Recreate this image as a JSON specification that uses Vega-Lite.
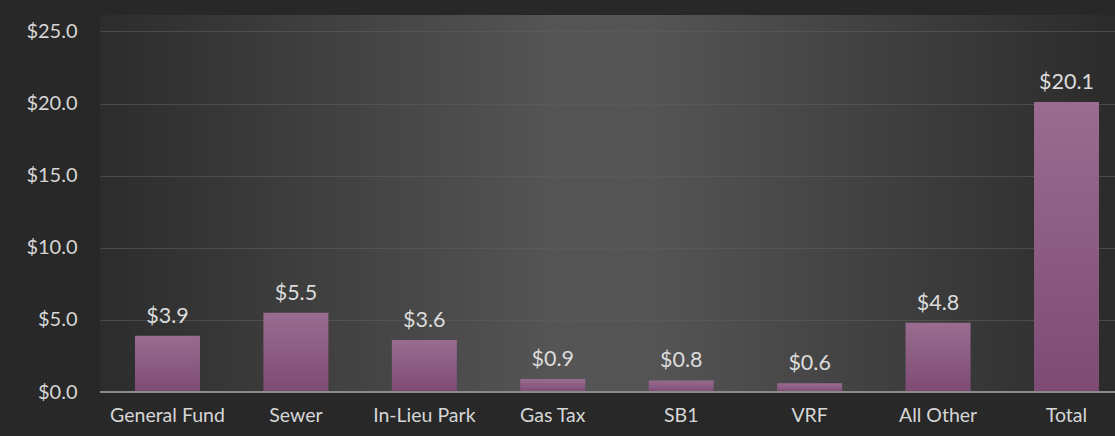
{
  "$schema": "https://vega.github.io/schema/vega-lite/v6.json",
  "autosize": {"type": "none"},
  "width": 1015,
  "height": 377,
  "padding": {"left": 100, "top": 15, "right": 0, "bottom": 44},
  "background": "#282828",
  "config": {
    "view": {
      "stroke": null,
      "fill": {
        "gradient": "linear",
        "x1": 0, "y1": 0, "x2": 1, "y2": 0,
        "stops": [
          {"offset": 0, "color": "#2c2c2c"},
          {"offset": 0.45, "color": "#555555"},
          {"offset": 0.55, "color": "#545454"},
          {"offset": 1, "color": "#2b2b2b"}
        ]
      }
    },
    "font": "Lato"
  },
  "data": {
    "values": [
      {"fund": "General Fund", "amount": 3.9},
      {"fund": "Sewer", "amount": 5.5},
      {"fund": "In-Lieu Park", "amount": 3.6},
      {"fund": "Gas Tax", "amount": 0.9},
      {"fund": "SB1", "amount": 0.8},
      {"fund": "VRF", "amount": 0.6},
      {"fund": "All Other", "amount": 4.8},
      {"fund": "Total", "amount": 20.1}
    ]
  },
  "encoding": {
    "x": {
      "field": "fund",
      "type": "nominal",
      "sort": null,
      "scale": {"paddingInner": 0.494, "paddingOuter": 0.1985, "align": 0.686},
      "axis": {
        "title": null,
        "labelAngle": 0,
        "labelColor": "#d6d6d6",
        "labelFont": "Lato",
        "labelFontSize": 19.5,
        "labelPadding": 14,
        "ticks": false,
        "domain": false,
        "grid": false
      }
    },
    "y": {
      "field": "amount",
      "type": "quantitative",
      "scale": {"domain": [0, 26.14], "nice": false},
      "axis": {
        "title": null,
        "values": [0, 5, 10, 15, 20, 25],
        "format": "$.1f",
        "labelColor": "#d6d6d6",
        "labelFont": "Lato",
        "labelFontSize": 20,
        "labelPadding": 23,
        "ticks": false,
        "domain": false,
        "grid": true,
        "gridColor": "#5e5e5e",
        "gridOpacity": 0.6,
        "gridWidth": 1
      }
    }
  },
  "layer": [
    {
      "mark": {
        "type": "bar",
        "color": {
          "gradient": "linear",
          "x1": 0, "y1": 0, "x2": 0, "y2": 1,
          "stops": [
            {"offset": 0, "color": "#9a6c90"},
            {"offset": 1, "color": "#7d4b74"}
          ]
        }
      }
    },
    {
      "mark": {
        "type": "rule",
        "color": "#8a8a8a",
        "strokeWidth": 2
      },
      "encoding": {
        "y": {"datum": 0},
        "x": null
      }
    },
    {
      "mark": {
        "type": "text",
        "baseline": "alphabetic",
        "dy": -13,
        "fontSize": 21.5,
        "color": "#dcdcdc",
        "font": "Lato"
      },
      "encoding": {
        "text": {"field": "amount", "type": "quantitative", "format": "$.1f"}
      }
    }
  ]
}
